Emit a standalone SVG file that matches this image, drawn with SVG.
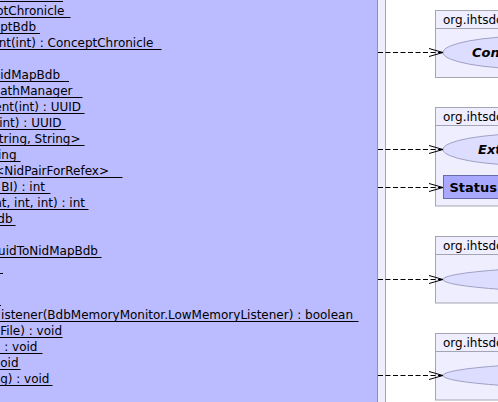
<svg xmlns="http://www.w3.org/2000/svg" width="498" height="402" viewBox="0 0 498 402">
<style>
.m{font-family:"DejaVu Sans",sans-serif;font-size:12px;fill:#000;text-anchor:end}
.ul{stroke:#000;stroke-width:1}
.pk{fill:#EEEEFF;stroke:#A4A4B4;stroke-width:1}
.pl{font-family:"DejaVu Sans",sans-serif;font-size:12px;fill:#000}
.uc{fill:#DDDDFF;stroke:#A0A0C4;stroke-width:1}
.ucl{font-family:"DejaVu Sans",sans-serif;font-size:13px;font-weight:bold;font-style:italic;fill:#000}
.cl{fill:#A8A8FF;stroke:#6C6CA8;stroke-width:1}
.cll{font-family:"DejaVu Sans",sans-serif;font-size:13px;font-weight:bold;fill:#000}
.dep{stroke:#000;stroke-width:1;stroke-dasharray:5,2.5;fill:none}
.ah{stroke:#000;stroke-width:1;fill:none}
</style>
<rect width="498" height="402" fill="#FFFFFF"/>
<g id="outer-package">
<rect x="-10" y="-10" width="395.5" height="430" class="pk"/>
</g>
<g id="main-class">
<rect x="-10" y="-10" width="387.5" height="430" fill="#BBBBFF" stroke="#8C8CC8" stroke-width="1"/>
<line class="ul" x1="0" y1="1.5" x2="63" y2="1.5"/>
<text class="m" x="64.5" y="15">otChronicle</text>
<line class="ul" x1="0" y1="17.5" x2="70.5" y2="17.5"/>
<text class="m" x="36" y="31">ptBdb</text>
<line class="ul" x1="0" y1="33.5" x2="40" y2="33.5"/>
<text class="m" x="153.5" y="47">nt(int) : ConceptChronicle</text>
<line class="ul" x1="0" y1="49.5" x2="161.5" y2="49.5"/>
<text class="m" x="60" y="79">idMapBdb</text>
<line class="ul" x1="0" y1="81.5" x2="69" y2="81.5"/>
<text class="m" x="72.5" y="95">athManager</text>
<line class="ul" x1="0" y1="97.5" x2="82.5" y2="97.5"/>
<text class="m" x="81" y="111">ent(int) : UUID</text>
<line class="ul" x1="0" y1="113.5" x2="84.5" y2="113.5"/>
<text class="m" x="61.5" y="127">int) : UUID</text>
<line class="ul" x1="0" y1="129.5" x2="65.5" y2="129.5"/>
<text class="m" x="80.5" y="143">tring, String&gt;</text>
<line class="ul" x1="0" y1="145.5" x2="84.5" y2="145.5"/>
<text class="m" x="16.5" y="159">ing</text>
<line class="ul" x1="0" y1="161.5" x2="20.5" y2="161.5"/>
<text class="m" x="109" y="175">&lt;NidPairForRefex&gt;</text>
<line class="ul" x1="0" y1="177.5" x2="122.5" y2="177.5"/>
<text class="m" x="45" y="191">BI) : int</text>
<line class="ul" x1="0" y1="193.5" x2="50.5" y2="193.5"/>
<text class="m" x="85" y="207">nt, int, int) : int</text>
<line class="ul" x1="0" y1="209.5" x2="88.5" y2="209.5"/>
<text class="m" x="12.5" y="223">db</text>
<line class="ul" x1="0" y1="225.5" x2="15.5" y2="225.5"/>
<text class="m" x="98" y="255">uidToNidMapBdb</text>
<line class="ul" x1="0" y1="257.5" x2="101.5" y2="257.5"/>
<line class="ul" x1="0" y1="273.5" x2="3" y2="273.5"/>
<line class="ul" x1="0" y1="305.5" x2="1" y2="305.5"/>
<text class="m" x="353" y="319">istener(BdbMemoryMonitor.LowMemoryListener) : boolean</text>
<line class="ul" x1="0" y1="321.5" x2="358.5" y2="321.5"/>
<text class="m" x="62" y="335">File) : void</text>
<line class="ul" x1="0" y1="337.5" x2="62.5" y2="337.5"/>
<text class="m" x="37.5" y="351">: void</text>
<line class="ul" x1="0" y1="353.5" x2="42.5" y2="353.5"/>
<text class="m" x="18.5" y="367">oid</text>
<line class="ul" x1="0" y1="369.5" x2="20.5" y2="369.5"/>
<text class="m" x="49.5" y="383">g) : void</text>
<line class="ul" x1="0" y1="385.5" x2="52.5" y2="385.5"/>
</g>
<g id="package-1">
<rect x="435.5" y="10.5" width="120" height="67" class="pk"/>
<line x1="435.5" y1="28.5" x2="555.5" y2="28.5" stroke="#A4A4B4"/>
<text class="pl" x="443" y="24">org.ihtsdo</text>
<ellipse cx="533" cy="52.5" rx="90" ry="16.5" class="uc"/>
<text class="ucl" x="472" y="57">Con</text>
</g>
<g id="package-2">
<rect x="435.5" y="107.5" width="120" height="98.5" class="pk"/>
<line x1="435.5" y1="125.5" x2="555.5" y2="125.5" stroke="#A4A4B4"/>
<text class="pl" x="443" y="121">org.ihtsdo</text>
<ellipse cx="533" cy="149.5" rx="90" ry="16" class="uc"/>
<text class="ucl" x="478" y="154">Ext</text>
<rect x="443.5" y="175.5" width="80" height="23" class="cl"/>
<text class="cll" x="449.5" y="192">Status</text>
</g>
<g id="package-3">
<rect x="435.5" y="236.5" width="120" height="66.5" class="pk"/>
<line x1="435.5" y1="254.5" x2="555.5" y2="254.5" stroke="#A4A4B4"/>
<text class="pl" x="443" y="250">org.ihtsdo</text>
<ellipse cx="643" cy="279.5" rx="200" ry="14" class="uc"/>
</g>
<g id="package-4">
<rect x="435.5" y="333.5" width="120" height="66.5" class="pk"/>
<line x1="435.5" y1="351.5" x2="555.5" y2="351.5" stroke="#A4A4B4"/>
<text class="pl" x="443" y="347">org.ihtsdo</text>
<ellipse cx="643" cy="375.5" rx="200" ry="14" class="uc"/>
</g>
<g id="connectors">
<line class="dep" x1="378" y1="52.5" x2="442" y2="52.5"/>
<polyline class="ah" points="429,48.5 443,52.5 429,56.5"/>
<line class="dep" x1="378" y1="149.5" x2="442" y2="149.5"/>
<polyline class="ah" points="429,145.5 443,149.5 429,153.5"/>
<line class="dep" x1="378" y1="187.5" x2="442" y2="187.5"/>
<polyline class="ah" points="429,183.5 443,187.5 429,191.5"/>
<line class="dep" x1="378" y1="279.5" x2="442" y2="279.5"/>
<polyline class="ah" points="429,275.5 443,279.5 429,283.5"/>
<line class="dep" x1="378" y1="375.5" x2="442" y2="375.5"/>
<polyline class="ah" points="429,371.5 443,375.5 429,379.5"/>
</g>
</svg>
